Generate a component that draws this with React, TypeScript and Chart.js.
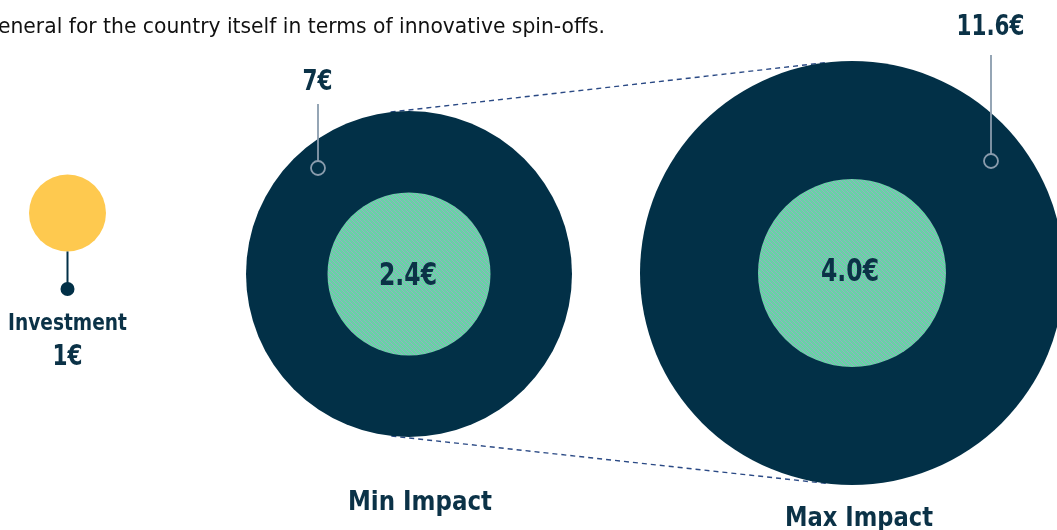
import { useEffect, useRef } from "react";
import { Chart, registerables } from "chart.js";

Chart.register(...registerables);

// ---- data ----
const categories = ["Investment", "Min Impact", "Max Impact"];
const totalReturn = [1, 7, 11.6];
const directReturn = [null, 2.4, 4.0];
const totalLabels = ["1€", "7€", "11.6€"];
const directLabels = ["", "2.4€", "4.0€"];
const introText = "in general for the country itself in terms of innovative spin-offs.";

// ---- layout (positions / sizes, not data) ----
const LAYOUT = {
  cx: [67.5, 409, 852],
  cy: [213, 274, 273],
  rOuter: [38.5, 163, 212],
  rInner: [0, 81.5, 94],
};

const NAVY = "#023047";
const YELLOW = "#fec94f";
const TEXT = "#0b3247";
const GREY = "#8a9cad";
const DASH = "#2b4a85";
const FONT = '"DejaVu Sans Condensed", "Liberation Sans Narrow", "DejaVu Sans", sans-serif';

function makeHatch(): CanvasPattern | string {
  const c = document.createElement("canvas");
  c.width = 4;
  c.height = 4;
  const g = c.getContext("2d");
  if (!g) return "#74c8a8";
  g.fillStyle = "#66d4a4";
  g.fillRect(0, 0, 4, 4);
  g.fillStyle = "rgba(160,160,205,0.85)";
  for (let i = 0; i < 4; i++) g.fillRect(i, i, 1, 1);
  const p = g.createPattern(c, "repeat");
  return p || "#74c8a8";
}

function text(
  ctx: CanvasRenderingContext2D,
  s: string,
  x: number,
  y: number,
  size: number,
  bold: boolean,
  maxWidth?: number
) {
  ctx.font = `${bold ? "bold " : ""}${size}px ${FONT}`;
  ctx.fillStyle = TEXT;
  ctx.textAlign = "center";
  ctx.textBaseline = "alphabetic";
  if (maxWidth) ctx.fillText(s, x, y, maxWidth);
  else ctx.fillText(s, x, y);
}

const decorPlugin = {
  id: "decor",
  beforeDatasetsDraw(chart: any) {
    const ctx: CanvasRenderingContext2D = chart.ctx;
    const xs = chart.scales.x;
    const ys = chart.scales.y;
    const c1 = { x: xs.getPixelForValue(LAYOUT.cx[1]), y: ys.getPixelForValue(LAYOUT.cy[1]) };
    const c2 = { x: xs.getPixelForValue(LAYOUT.cx[2]), y: ys.getPixelForValue(LAYOUT.cy[2]) };
    const r1 = LAYOUT.rOuter[1];
    const r2 = LAYOUT.rOuter[2];
    const dx = c2.x - c1.x;
    const dy = c2.y - c1.y;
    const d = Math.hypot(dx, dy);
    const ux = dx / d;
    const uy = dy / d;
    const s = (r2 - r1) / d;
    const h = Math.sqrt(1 - s * s);
    ctx.save();
    ctx.strokeStyle = DASH;
    ctx.lineWidth = 1.4;
    ctx.setLineDash([5, 4]);
    for (const sign of [1, -1]) {
      const nx = s * ux + sign * h * -uy;
      const ny = s * uy + sign * h * ux;
      ctx.beginPath();
      ctx.moveTo(c1.x - r1 * nx, c1.y - r1 * ny);
      ctx.lineTo(c2.x - r2 * nx, c2.y - r2 * ny);
      ctx.stroke();
    }
    ctx.restore();
  },
  afterDatasetsDraw(chart: any) {
    const ctx: CanvasRenderingContext2D = chart.ctx;
    const xs = chart.scales.x;
    const ys = chart.scales.y;
    const px = (i: number) => xs.getPixelForValue(LAYOUT.cx[i]);
    const py = (i: number) => ys.getPixelForValue(LAYOUT.cy[i]);
    ctx.save();

    // intro paragraph (cut off at the left edge)
    ctx.font = `22px ${FONT}`;
    const visible = introText.slice(4);
    const natural = ctx.measureText(visible).width;
    const sx = 607 / natural;
    ctx.save();
    ctx.translate(605, 33);
    ctx.scale(sx, 1);
    ctx.fillStyle = "#111";
    ctx.textAlign = "right";
    ctx.textBaseline = "alphabetic";
    ctx.fillText(introText, 0, 0);
    ctx.restore();

    // investment stem
    const x0 = px(0);
    const y0 = py(0);
    ctx.strokeStyle = NAVY;
    ctx.lineWidth = 2;
    ctx.beginPath();
    ctx.moveTo(x0, y0 + LAYOUT.rOuter[0]);
    ctx.lineTo(x0, y0 + 76);
    ctx.stroke();
    ctx.fillStyle = NAVY;
    ctx.beginPath();
    ctx.arc(x0, y0 + 76, 7, 0, Math.PI * 2);
    ctx.fill();
    text(ctx, categories[0], x0, y0 + 117, 23, true, 119);
    text(ctx, totalLabels[0], x0, y0 + 152, 29, true, 30);

    // leader rings for totals
    const leaders = [
      { i: 1, lx: 318, top: 104, ring: 168, tx: 317.5, ty: 90, size: 29, w: 30 },
      { i: 2, lx: 991, top: 55, ring: 161, tx: 990.5, ty: 35, size: 28, w: 68 },
    ];
    for (const L of leaders) {
      ctx.strokeStyle = GREY;
      ctx.lineWidth = 1.8;
      ctx.beginPath();
      ctx.moveTo(L.lx, L.top);
      ctx.lineTo(L.lx, L.ring - 7);
      ctx.stroke();
      ctx.beginPath();
      ctx.arc(L.lx, L.ring, 7, 0, Math.PI * 2);
      ctx.stroke();
      text(ctx, totalLabels[L.i], L.tx, L.ty, L.size, true, L.w);
    }

    // inner values
    for (let i = 0; i < directReturn.length; i++) {
      if (directReturn[i] == null) continue;
      text(ctx, directLabels[i], px(i) - 1 - (i === 2 ? 1 : 0), py(i) + 11 + (i === 2 ? -3 : 0), 32, true, 58);
    }

    // category names
    text(ctx, categories[1], 420, 510, 26, true, 144);
    text(ctx, categories[2], 859, 526, 26, true, 148);

    ctx.restore();
  },
};

export default function App() {
  const ref = useRef<HTMLCanvasElement | null>(null);

  useEffect(() => {
    document.body.style.margin = "0";
    if (!ref.current) return;
    const hatch = makeHatch();
    const outerData = categories.map((c, i) => ({
      x: LAYOUT.cx[i],
      y: LAYOUT.cy[i],
      r: LAYOUT.rOuter[i],
      v: totalReturn[i],
    }));
    const innerData = categories
      .map((c, i) => ({ x: LAYOUT.cx[i], y: LAYOUT.cy[i], r: LAYOUT.rInner[i], v: directReturn[i] }))
      .filter((d) => d.v != null);

    const chart = new Chart(ref.current, {
      type: "bubble",
      data: {
        datasets: [
          {
            label: "Direct return",
            data: innerData as any,
            backgroundColor: hatch as any,
            borderWidth: 0,
            hoverBorderWidth: 0,
            clip: false as any,
          },
          {
            label: "Total return",
            data: outerData as any,
            backgroundColor: [YELLOW, NAVY, NAVY],
            borderWidth: 0,
            hoverBorderWidth: 0,
            clip: false as any,
          },
        ],
      },
      options: {
        animation: false,
        responsive: false,
        events: [],
        layout: { padding: 0, autoPadding: false } as any,
        plugins: { legend: { display: false }, tooltip: { enabled: false } },
        scales: {
          x: { type: "linear", display: false, min: 0, max: 1057 },
          y: { type: "linear", display: false, min: 0, max: 530, reverse: true },
        },
      },
      plugins: [decorPlugin],
    });
    return () => chart.destroy();
  }, []);

  return (
    <canvas
      ref={ref}
      width={1057}
      height={530}
      style={{ position: "fixed", left: 0, top: 0, width: 1057, height: 530, display: "block" }}
    />
  );
}
